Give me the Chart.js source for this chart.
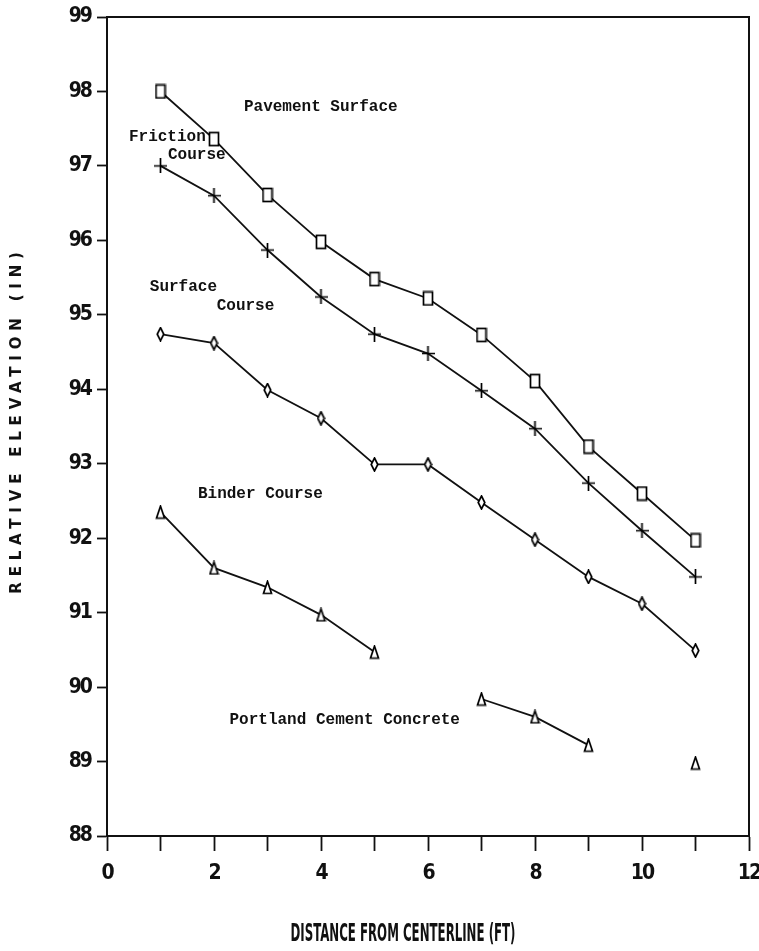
<!DOCTYPE html>
<html>
<head>
<meta charset="utf-8">
<script src="https://cdn.jsdelivr.net/npm/chart.js@4/dist/chart.umd.min.js"></script>
<style>
  html, body { margin: 0; padding: 0; background: #fff; }
  #wrap { width: 759px; height: 951px; position: relative; }
</style>
</head>
<body>
<div id="wrap"><canvas id="chart"></canvas></div>
<script>
    // values
    const distances = [1, 2, 3, 4, 5, 6, 7, 8, 9, 10, 11];
    const pavementSurface = [98.0, 97.36, 96.61, 95.98, 95.48, 95.22, 94.73, 94.11, 93.23, 92.6, 91.97];
    const frictionCourse = [97.0, 96.6, 95.87, 95.24, 94.74, 94.48, 93.98, 93.47, 92.74, 92.1, 91.48];
    const surfaceCourse = [94.74, 94.62, 93.99, 93.61, 92.99, 92.99, 92.48, 91.98, 91.48, 91.12, 90.49];
    const binderCourse = [92.35, 91.6, 91.34, 90.97, 90.47, null, null, null, null, null, null];
    const portlandCement = [null, null, null, null, null, null, 89.84, 89.6, 89.22, null, 88.98];

    const xTicks = [0, 2, 4, 6, 8, 10, 12];
    const yTicks = [88, 89, 90, 91, 92, 93, 94, 95, 96, 97, 98, 99];

    // text written inside the plot (data coordinates, left aligned)
    const notes = [
      { text: 'Pavement Surface', x: 2.56, y: 97.79 },
      { text: 'Friction', x: 0.41, y: 97.39 },
      { text: 'Course', x: 1.14, y: 97.15 },
      { text: 'Surface', x: 0.80, y: 95.38 },
      { text: 'Course', x: 2.05, y: 95.12 },
      { text: 'Binder Course', x: 1.70, y: 92.6 },
      { text: 'Portland Cement Concrete', x: 2.29, y: 89.56 }
    ];

    function toPoints(values) {
      return distances.map((d, i) => ({ x: d, y: values[i] }));
    }

    function makeMarker(w, h, draw) {
      const c = document.createElement('canvas');
      c.width = w;
      c.height = h;
      const g = c.getContext('2d');
      g.strokeStyle = '#000';
      g.fillStyle = '#fff';
      g.lineWidth = 1.7;
      draw(g, w, h);
      return c;
    }

    const squareMark = makeMarker(12, 16, (g, w, h) => {
      g.fillRect(1.5, 1.5, w - 3, h - 3);
      g.strokeRect(1.5, 1.5, w - 3, h - 3);
    });
    const plusMark = makeMarker(13, 15, (g, w, h) => {
      g.beginPath();
      g.moveTo(0, h / 2); g.lineTo(w, h / 2);
      g.moveTo(w / 2, 0); g.lineTo(w / 2, h);
      g.stroke();
    });
    const diamondMark = makeMarker(9, 15, (g, w, h) => {
      g.beginPath();
      g.moveTo(w / 2, 1); g.lineTo(w - 1.2, h / 2); g.lineTo(w / 2, h - 1); g.lineTo(1.2, h / 2);
      g.closePath();
      g.fill(); g.stroke();
    });
    const triangleMark = makeMarker(11, 15, (g, w, h) => {
      g.beginPath();
      g.moveTo(w / 2, 1.5); g.lineTo(w - 1.5, h - 1.5); g.lineTo(1.5, h - 1.5);
      g.closePath();
      g.fill(); g.stroke();
    });

    function series(label, values, marker) {
      return {
        label: label,
        data: toPoints(values),
        borderColor: '#111',
        borderWidth: 1.8,
        pointStyle: marker,
        pointRadius: 6,
        spanGaps: false,
        fill: false,
        tension: 0
      };
    }

    const narrowFont = '"Liberation Sans Narrow", "DejaVu Sans Condensed", "Arial Narrow", sans-serif';

    // tighten the tick numbers a little, the original digits are very narrow
    const tightTicks = {
      id: 'tightTicks',
      beforeDraw(chart) { chart.ctx.letterSpacing = '-2px'; },
      beforeDatasetsDraw(chart) { chart.ctx.letterSpacing = '0px'; }
    };

    // frame, titles and in-plot labels
    const decorations = {
      id: 'decorations',
      afterDraw(chart) {
        const ctx = chart.ctx;
        const a = chart.chartArea;
        const xs = chart.scales.x, ys = chart.scales.y;
        ctx.save();
        ctx.letterSpacing = '0px';
        ctx.strokeStyle = '#111';
        ctx.lineWidth = 2;
        ctx.beginPath();
        ctx.moveTo(a.left, a.top);
        ctx.lineTo(a.right, a.top);
        ctx.lineTo(a.right, a.bottom);
        ctx.stroke();

        ctx.fillStyle = '#111';
        ctx.font = 'bold 16px "Liberation Mono", "DejaVu Sans Mono", monospace';
        ctx.textAlign = 'left';
        ctx.textBaseline = 'middle';
        notes.forEach(n => {
          ctx.fillText(n.text, xs.getPixelForValue(n.x), ys.getPixelForValue(n.y));
        });

        // x axis title, squeezed like the original lettering
        const xTitle = 'DISTANCE FROM CENTERLINE (FT)';
        ctx.font = 'bold 24px ' + narrowFont;
        ctx.textAlign = 'center';
        const w = ctx.measureText(xTitle).width;
        ctx.save();
        ctx.translate(403, 935);
        ctx.scale(225 / w, 1);
        ctx.fillText(xTitle, 0, 0);
        ctx.restore();

        // y axis title, widely spaced
        ctx.save();
        ctx.translate(17, 420);
        ctx.rotate(-Math.PI / 2);
        ctx.font = 'bold 15px "DejaVu Sans", sans-serif';
        ctx.letterSpacing = '5.8px';
        ctx.textAlign = 'center';
        ctx.fillText('RELATIVE ELEVATION (IN)', 0, 0);
        ctx.restore();
        ctx.restore();
      }
    };

    const ctx = document.getElementById('chart').getContext('2d');
    new Chart(ctx, {
      type: 'line',
      data: {
        datasets: [
          series('Pavement Surface', pavementSurface, squareMark),
          series('Friction Course', frictionCourse, plusMark),
          series('Surface Course', surfaceCourse, diamondMark),
          series('Binder Course', binderCourse, triangleMark),
          series('Portland Cement Concrete', portlandCement, triangleMark)
        ]
      },
      options: {
        responsive: true,
        maintainAspectRatio: false,
        animation: false,
        events: [],
        layout: { padding: { top: 17, right: 10, left: 0, bottom: 0 } },
        plugins: { legend: { display: false }, tooltip: { enabled: false } },
        scales: {
          x: {
            type: 'linear',
            min: 0,
            max: 12,
            afterFit: s => { s.height = 115; s.paddingRight = 0; s.paddingLeft = 0; },
            ticks: {
              stepSize: 1,
              autoSkip: false,
              maxRotation: 0,
              padding: 10,
              color: '#111',
              font: { family: narrowFont, size: 21, weight: 'bold' },
              callback: v => xTicks.includes(v) ? String(v) : ''
            },
            grid: { drawOnChartArea: false, tickLength: 15, tickWidth: 1.8, color: '#111' },
            border: { display: true, color: '#111', width: 2 }
          },
          y: {
            min: 88,
            max: 99,
            afterFit: s => { s.width = 107; s.paddingTop = 0; s.paddingBottom = 0; },
            ticks: {
              stepSize: 1,
              autoSkip: false,
              padding: 6,
              color: '#111',
              font: { family: narrowFont, size: 21, weight: 'bold' },
              callback: v => yTicks.includes(v) ? String(v) : ''
            },
            grid: { drawOnChartArea: false, tickLength: 10, tickWidth: 1.8, color: '#111' },
            border: { display: true, color: '#111', width: 2 }
          }
        }
      },
      plugins: [tightTicks, decorations]
    });
</script>
</body>
</html>
